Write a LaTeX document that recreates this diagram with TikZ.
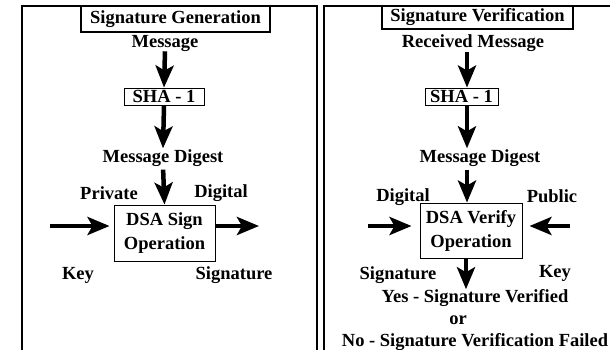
\documentclass[tikz,border=0pt]{standalone}
\usepackage{fontspec}
\setmainfont{Liberation Serif}
\usetikzlibrary{arrows.meta,calc}
\begin{document}
\begin{tikzpicture}[x=1pt,y=-1pt,
  every node/.style={font=\fontsize{18.5}{24}\selectfont\bfseries, inner sep=0pt},
  panel/.style={line width=2pt},
  titlebox/.style={draw, line width=1.6pt},
  opbox/.style={draw, line width=0.9pt, align=center},
  bigarrow/.style={line width=4.5pt, -{Stealth[length=22pt,width=18pt,inset=5pt]}}]
\useasboundingbox (0,0) rectangle (610,350);
\fill[white] (0,0) rectangle (610,350);

% two framed panels, open at the bottom
\draw[panel] (21.5,350) -- (21.5,6) -- (316.5,6) -- (316.5,350);
\draw[panel] (324,350) -- (324,6) -- (610,6);

% ---- signature generation ----
\node[titlebox, minimum width=189pt, minimum height=26pt] (titleL) at (175.5,19) {Signature Generation};
\node (msgL) at (165,43) {Message};
\node[opbox, minimum width=80pt, minimum height=17pt] (shaL) at (164,96.5) {SHA - 1};
\node (digL) at (163,158) {Message Digest};
\node (privL) at (109,193) {Private};
\node (digitalL) at (221,193) {Digital};
\node[opbox, minimum width=101pt, minimum height=56pt] (signL) at (164.5,233) {DSA Sign\\Operation};
\node (keyL) at (78,275) {Key};
\node (sigL) at (234,275) {Signature};
\coordinate (keysrcL) at (50,226);
\coordinate (sigoutL) at (259,226);

\draw[bigarrow] (msgL.south) -- (shaL.north);
\draw[bigarrow] (shaL.south) -- ([yshift=1pt]digL.north);
\draw[bigarrow, shorten <=3pt] (digL.south) -- (signL.north);
\draw[bigarrow, shorten >=4pt] (keysrcL) -- (keysrcL -| signL.west);
\draw[bigarrow] (keysrcL -| signL.east) -- (sigoutL);

% ---- signature verification ----
\node[titlebox, minimum width=191pt, minimum height=23pt] (titleR) at (477.5,17.5) {Signature Verification};
\node (recvR) at (473,43) {Received Message};
\node[opbox, minimum width=73pt, minimum height=17pt] (shaR) at (461.5,96.5) {SHA - 1};
\node (digR) at (480,158) {Message Digest};
\node (digitalR) at (403,197) {Digital};
\node (publicR) at (552,196) {Public};
\node[opbox, minimum width=102pt, minimum height=55pt] (verR) at (471,230.5) {DSA Verify\\Operation};
\node (sigR) at (398,275) {Signature};
\node (keyR) at (555,273) {Key};
\node (yesR) at (475,298) {Yes - Signature Verified};
\node (orR) at (458,320) {or};
\node (noR) at (475,342) {No - Signature Verification Failed};
\coordinate (sigsrcR) at (368,226);
\coordinate (keysrcR) at (570,226);

\draw[bigarrow] ([xshift=-6pt]recvR.south) -- ([xshift=5.5pt]shaR.north);
\draw[bigarrow] ([xshift=5.5pt]shaR.south) -- ([xshift=-13pt,yshift=1pt]digR.north);
\draw[bigarrow, shorten <=3pt] ([xshift=-13pt]digR.south) -- ([xshift=-4pt]verR.north);
\draw[bigarrow, shorten >=8pt] (sigsrcR) -- (sigsrcR -| verR.west);
\draw[bigarrow, shorten >=7pt] (keysrcR) -- (keysrcR -| verR.east);
\draw[bigarrow] ([xshift=-5pt]verR.south) -- ([xshift=-5pt]verR.south |- yesR.north);
\end{tikzpicture}
\end{document}
